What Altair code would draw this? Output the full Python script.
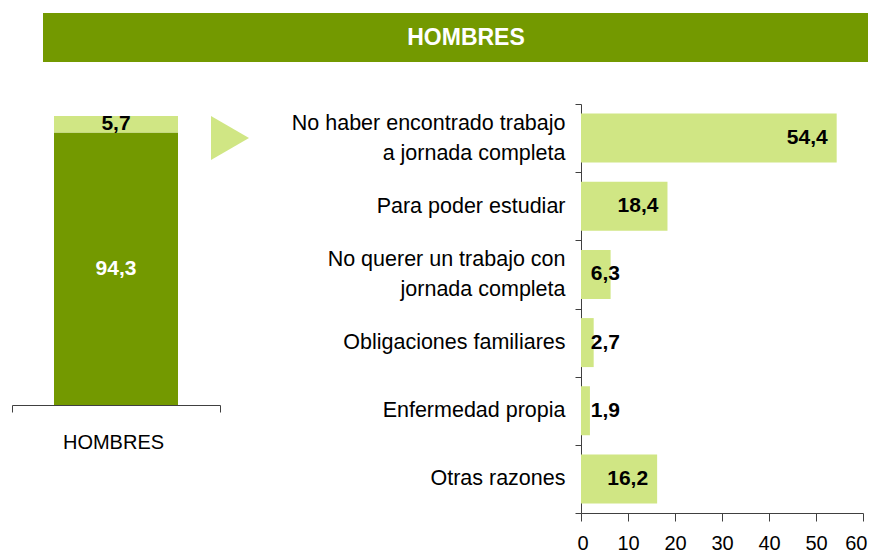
import altair as alt
import pandas as pd

# ---- data ----
titulo = ["HOMBRES"]
grupo = ["HOMBRES"]
tipo_jornada = ["Jornada completa", "Jornada parcial"]
pct_jornada = [94.3, 5.7]
razones = [
    "No haber encontrado trabajo|a jornada completa",
    "Para poder estudiar",
    "No querer un trabajo con|jornada completa",
    "Obligaciones familiares",
    "Enfermedad propia",
    "Otras razones",
]
pct_razones = [54.4, 18.4, 6.3, 2.7, 1.9, 16.2]
x_ticks = [0, 10, 20, 30, 40, 50, 60]

# ---- styles ----
DARK = "#739900"
LIGHT = "#D0E684"
AX = "#404040"
FONT = "Liberation Sans"
W, H = 860, 545

# ---- banner ----
banner_df = pd.DataFrame({"t": titulo})
banner = alt.Chart(banner_df).mark_rect(color=DARK).encode(
    x=alt.value(35), x2=alt.value(W), y=alt.value(5), y2=alt.value(54)
)
banner_text = alt.Chart(banner_df).mark_text(
    font=FONT, fontSize=23, fontWeight="bold", color="white",
    align="center", baseline="middle"
).encode(x=alt.value(458), y=alt.value(30), text="t:N")

# ---- left stacked bar ----
left_df = pd.DataFrame({
    "grupo": grupo * 2,
    "tipo": tipo_jornada,
    "pct": pct_jornada,
    "orden": [0, 1],
})
lx_scale = alt.Scale(domain=grupo, range=[4, 212], paddingInner=0, paddingOuter=0)
ly_scale = alt.Scale(domain=[0, 100], range=[397, 108], nice=False)

left_bar = alt.Chart(left_df).mark_bar(size=124).encode(
    x=alt.X("grupo:N", scale=lx_scale, axis=alt.Axis(
        title=None, orient="bottom", offset=-148, tickBand="extent",
        tickSize=7, labelFontSize=20, labelFont=FONT, labelColor="black",
        labelPadding=20, labelAngle=0, labelOffset=-3, domainColor=AX, tickColor=AX)),
    y=alt.Y("pct:Q", stack="zero", scale=ly_scale, axis=None),
    color=alt.Color("tipo:N", scale=alt.Scale(domain=tipo_jornada, range=[DARK, LIGHT]), legend=None),
    order=alt.Order("orden:Q"),
)
left_text = alt.Chart(left_df).transform_stack(
    stack="pct", as_=["y0", "y1"], groupby=["grupo"], sort=[alt.SortField("orden")]
).transform_calculate(
    mid="(datum.y0 + datum.y1) / 2",
    lab="replace(format(datum.pct, '.1f'), '.', ',')",
).mark_text(font=FONT, fontSize=21, fontWeight="bold", baseline="middle", align="center").encode(
    x=alt.X("grupo:N", scale=lx_scale, axis=None),
    y=alt.Y("mid:Q", scale=ly_scale, axis=None),
    text="lab:N",
    color=alt.condition("datum.orden == 0", alt.value("white"), alt.value("black")),
)

# ---- arrow ----
triangle = alt.Chart(banner_df).mark_point(
    shape="M-0.864,-1L0.864,0L-0.864,1Z", filled=True, opacity=1,
    color=LIGHT, size=1936, strokeWidth=0
).encode(x=alt.value(222), y=alt.value(130))

# ---- right horizontal bars ----
right_df = pd.DataFrame({"razon": razones, "pct": pct_razones})
rx_scale = alt.Scale(domain=[0, 60], range=[573, 855], nice=False)
ry_scale = alt.Scale(domain=razones, range=[96, 505], paddingInner=0, paddingOuter=0)

label_common = dict(
    title=None, orient="left", offset=-573, labelFontSize=21.5, labelFont=FONT,
    labelColor="black", labelLineHeight=30, labelLimit=400,
)

# single-line labels (and ticks / domain)
right_bar = alt.Chart(right_df).mark_bar(size=49, color=LIGHT).encode(
    x=alt.X("pct:Q", scale=rx_scale, axis=alt.Axis(
        title=None, orient="bottom", offset=-40, values=x_ticks, grid=False,
        tickSize=8, labelFontSize=20, labelFont=FONT, labelColor="black",
        labelPadding=12, domainColor=AX, tickColor=AX,
        labelFlush=True, labelFlushOffset=4)),
    y=alt.Y("razon:N", sort=razones, scale=ry_scale, axis=alt.Axis(
        tickBand="extent", tickSize=6, labelPadding=10,
        labelExpr="indexof(datum.label, '|') >= 0 ? '' : datum.label",
        domainColor=AX, tickColor=AX, **label_common)),
)
# two-line labels, centred on their band
right_text = alt.Chart(right_df).transform_calculate(
    pos="max(datum.pct, 10.2)",
    lab="replace(format(datum.pct, '.1f'), '.', ',')",
).mark_text(font=FONT, fontSize=21, fontWeight="bold", align="right", baseline="middle", dx=-9, color="black").encode(
    x=alt.X("pos:Q", scale=rx_scale, axis=None),
    y=alt.Y("razon:N", sort=razones, scale=ry_scale, axis=alt.Axis(
        ticks=False, domain=False, tickSize=0, labelPadding=16, labelOffset=-15,
        labelExpr="indexof(datum.label, '|') >= 0 ? split(datum.label, '|') : ''",
        **label_common)),
    text="lab:N",
)

chart = alt.layer(
    banner, banner_text, left_bar, left_text, triangle, right_bar, right_text
).resolve_scale(
    x="independent", y="independent", color="independent"
).resolve_axis(x="independent", y="independent").properties(
    width=W, height=H,
    autosize=alt.AutoSizeParams(type="none"),
    padding=0,
    background="white",
).configure_view(stroke=None)

chart.save("out.html", embed_options={"renderer": "svg", "actions": False})
